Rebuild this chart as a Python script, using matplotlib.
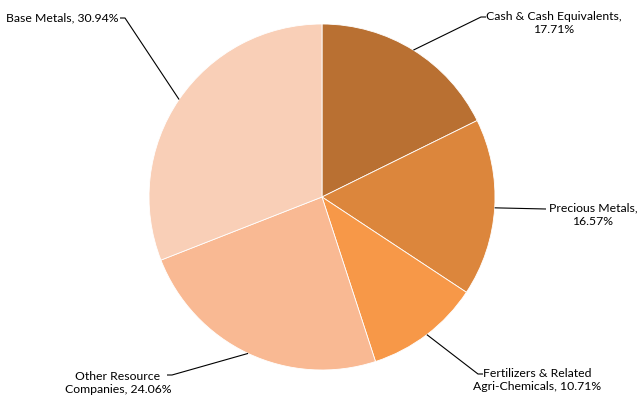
import matplotlib
matplotlib.use("Agg")
import matplotlib.pyplot as plt
import numpy as np

categories = ["Cash & Cash Equivalents", "Precious Metals", "Fertilizers & Related Agri-Chemicals",
              "Other Resource Companies", "Base Metals"]
values = [17.71, 16.57, 10.71, 24.06, 30.94]
label_texts = ["Cash & Cash Equivalents,\n17.71%", "Precious Metals,\n16.57%",
               "Fertilizers & Related\nAgri-Chemicals, 10.71%", "Other Resource\nCompanies, 24.06%",
               "Base Metals, 30.94%"]
colors = ["#B97032", "#DC863C", "#F79848", "#F9B993", "#F9CFB7"]

W, H = 639, 396
fig = plt.figure(figsize=(W / 100, H / 100), dpi=100)
ax = fig.add_axes([0, 0, 1, 1])

cx, cy, r = 322, H - 197, 173
wedges, _ = ax.pie(values, colors=colors, startangle=90, counterclock=False,
                   center=(cx, cy), radius=r, frame=True,
                   wedgeprops=dict(edgecolor="white", linewidth=0.6))
ax.set_xlim(0, W)
ax.set_ylim(0, H)
ax.set_aspect("equal")
ax.axis("off")

# label text positions (pixel coords, top-origin), alignment, elbow point, line end
specs = [
    dict(xy=(554, 23), ha="center", elbow=(481, 17), end=(486, 17)),
    dict(xy=(593, 215), ha="center", elbow=(546, 209), end=(546, 209)),
    dict(xy=(537, 380), ha="center", elbow=(478, 374), end=(483, 374)),
    dict(xy=(118, 383), ha="center", elbow=(172, 375), end=(167, 375)),
    dict(xy=(118, 18), ha="right", elbow=(125, 18), end=(120, 18)),
]

font = ["Lato", "DejaVu Sans"]
for w, txt, s in zip(wedges, label_texts, specs):
    ang = np.deg2rad((w.theta1 + w.theta2) / 2)
    px = cx + r * np.cos(ang)
    py = cy + r * np.sin(ang)
    ex, ey = s["elbow"]
    tx, ty = s["end"]
    ax.plot([px, ex, tx], [py, H - ey, H - ty], color="black", lw=0.8, solid_capstyle="butt")
    ax.text(s["xy"][0], H - s["xy"][1], txt, ha=s["ha"], va="center", fontsize=8.8,
            family=font, linespacing=1.25, multialignment="center")

fig.savefig("out.png", dpi=100)
